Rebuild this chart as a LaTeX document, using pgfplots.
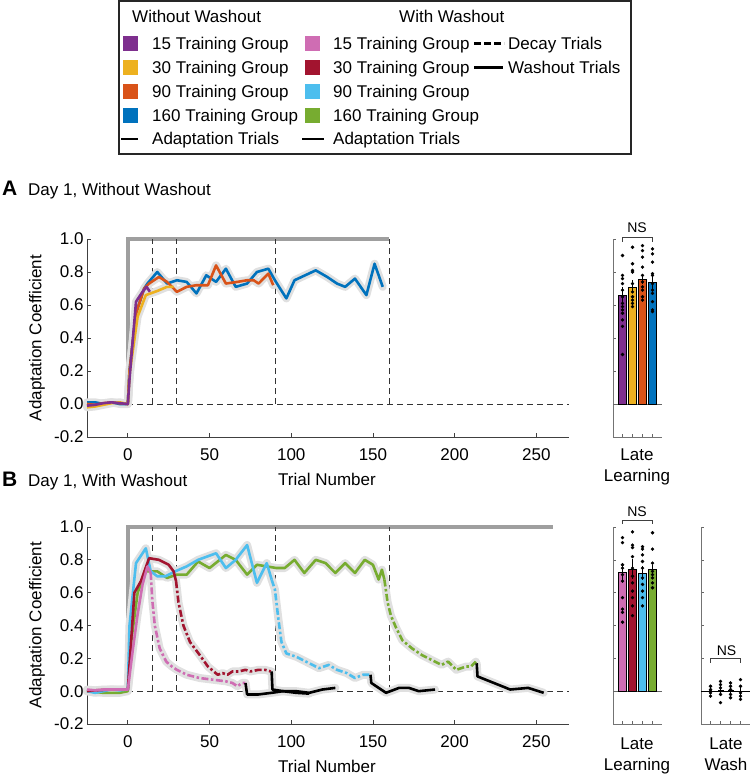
\documentclass[border=0pt]{standalone}
\usepackage{pgfplots}
\usepackage{pgfplotstable}
\pgfplotsset{compat=1.18}
\usepackage{fontspec}
\setmainfont{Liberation Sans}
\newcommand{\fs}{\fontsize{17}{20}\selectfont}
\definecolor{cPurple}{HTML}{7E2F8E}
\definecolor{cYellow}{HTML}{EDB120}
\definecolor{cOrange}{HTML}{D95319}
\definecolor{cBlue}{HTML}{0072BD}
\definecolor{cPink}{HTML}{CF6DB3}
\definecolor{cRed}{HTML}{A2142F}
\definecolor{cLBlue}{HTML}{4DBEEE}
\definecolor{cGreen}{HTML}{77AC30}
\definecolor{bandgray}{HTML}{E0E0E0}

% ---------- Panel A data ----------
\pgfplotstableread{
x y
-25 -0.01
-20 -0.005
-15 0.005
-10 0.01
-5 0.005
0 0.0
1 0.15
5 0.62
9 0.68
11.5 0.71
13.5 0.68
}\tApurple
\pgfplotstableread{
x y
-25 -0.02
-20 -0.015
-15 -0.005
-10 0.005
-5 0.01
0 0.0
1 0.18
6 0.53
11 0.66
18 0.685
24 0.71
28 0.71
}\tAyellow
\pgfplotstableread{
x y
-25 0.0
-20 -0.005
-15 0.005
-10 0.01
-5 0.005
0 0.0
1 0.2
5 0.55
10 0.70
13 0.73
19 0.77
24 0.74
30 0.68
36 0.71
42 0.72
49 0.72
54 0.84
60 0.73
67 0.74
73 0.75
77 0.75
80 0.73
86 0.79
89 0.72
}\tAorange
\pgfplotstableread{
x y
-25 0.01
-20 0.01
-15 0.0
-10 0.01
-5 0.0
0 0.0
1 0.2
5 0.55
10 0.70
12 0.73
18 0.80
24 0.73
30 0.75
36 0.74
42 0.67
48 0.78
54 0.74
60 0.82
66 0.71
73 0.73
79 0.80
86 0.82
90 0.75
97 0.64
102 0.75
115 0.81
122 0.77
128 0.73
133 0.71
139 0.76
146 0.66
151 0.85
156 0.71
}\tAblue

% ---------- Panel B data ----------
\pgfplotstableread{
x y
-25 0.01
-20 0.005
-15 0.01
-10 0.01
-5 0.01
0 0.01
3 0.25
6 0.47
9 0.65
12 0.76
14 0.72
}\tBpinkS
\pgfplotstableread{
x y
14 0.72
15 0.55
16.5 0.40
19.5 0.26
23.5 0.18
27 0.15
30 0.13
36 0.10
44 0.08
52 0.07
60 0.06
64 0.05
67 0.03
70 0.05
72 0.05
}\tBpinkD
\pgfplotstableread{
x y
72 0.05
73 -0.02
80 -0.02
88 -0.01
95 0.0
103 -0.01
111 -0.015
}\tBpinkW
\pgfplotstableread{
x y
-25 0.0
-20 0.005
-10 0.01
0 0.01
4 0.60
8 0.67
13 0.81
19 0.80
25 0.77
28 0.73
29.5 0.67
}\tBredS
\pgfplotstableread{
x y
29.5 0.67
31 0.54
34 0.40
38 0.30
44 0.22
49 0.15
55 0.10
58 0.11
61 0.10
64 0.12
68 0.12
72 0.13
75 0.12
80 0.13
84 0.13
87.5 0.12
}\tBredD
\pgfplotstableread{
x y
88 0.12
88.5 0.01
95 0.0
103 0.0
111 -0.01
119 0.01
127 0.02
}\tBredW
\pgfplotstableread{
x y
-25 0.0
-20 -0.01
-15 0.0
-10 0.01
-5 0.005
0 0.01
1 0.4
5 0.78
11 0.87
14 0.73
18 0.70
23 0.70
29 0.73
36 0.76
43 0.80
54 0.84
60 0.75
66 0.80
73 0.89
79 0.66
85 0.78
88 0.68
}\tBlblueS
\pgfplotstableread{
x y
88 0.68
90 0.62
92 0.45
94 0.30
97 0.23
103 0.21
109 0.18
117 0.14
123 0.16
128 0.13
134 0.11
139 0.08
144 0.10
148 0.10
}\tBlblueD
\pgfplotstableread{
x y
148.5 0.10
149 0.05
158 -0.01
166 0.02
172 0.02
178 0.0
188 0.01
}\tBlblueW
\pgfplotstableread{
x y
-25 0.0
-20 -0.005
-15 -0.01
-10 -0.01
-5 -0.01
0 0.0
2 0.3
6 0.60
11 0.73
18 0.73
24 0.69
30 0.71
36 0.71
43 0.79
50 0.75
60 0.83
66 0.80
73 0.71
79 0.77
85 0.76
91 0.75
96 0.75
102 0.80
108 0.72
115 0.80
121 0.78
127 0.72
133 0.78
139 0.72
145 0.80
150 0.77
153.5 0.68
155.5 0.74
157 0.68
}\tBgreenS
\pgfplotstableread{
x y
157 0.68
159 0.54
161 0.46
164 0.39
168 0.31
174 0.26
180 0.22
186 0.19
192 0.16
196 0.18
201 0.13
207 0.15
210 0.15
213 0.18
}\tBgreenD
\pgfplotstableread{
x y
213.5 0.17
214 0.09
234 0.01
245 0.02
254.5 -0.01
}\tBgreenW

\pgfplotsset{
  mainax/.style={scale only axis, width=482pt, xmin=-25, xmax=270, ymin=-0.2, ymax=1.0,
    axis x line*=bottom, axis y line*=left,
    axis line style={black!75, line width=0.9pt, -},
    tick style={black!75, line width=0.8pt}, tick align=inside, major tick length=4pt,
    xtick={0,50,100,150,200,250}, ytick={-0.2,0,0.2,0.4,0.6,0.8,1.0},
    yticklabel style={/pgf/number format/fixed, /pgf/number format/fixed zerofill, /pgf/number format/precision=1},
    xticklabel={\raisebox{-7pt}[12.5pt][0pt]{\pgfmathprintnumber{\tick}}},
    tick label style={font=\fs}, /pgf/number format/assume math mode=true,
    clip=false},
  barax/.style={scale only axis, width=49pt, xmin=0.05, xmax=4.95, ymin=-0.2, ymax=1.0,
    axis x line*=bottom, axis y line*=left,
    axis line style={black!55, line width=0.9pt, -},
    tick style={black!60, line width=0.6pt}, tick align=inside, major tick length=3pt,
    xtick={1,2,3,4}, xticklabels={}, ytick={-0.2,0,0.2,0.4,0.6,0.8,1.0}, yticklabels={},
    clip=false},
  band/.style={line width=8pt, bandgray, line join=round, line cap=round},
  ln/.style={line width=2.6pt, line join=round},
  dec/.style={line width=2.6pt, line join=round, dash pattern=on 7pt off 2.5pt on 2.5pt off 2.5pt},
  refl/.style={black!80, line width=0.8pt, dash pattern=on 6pt off 4pt},
  bar/.style={ybar, bar width=0.83, bar shift=0pt, draw=black, line width=0.5pt,
    error bars/y dir=both, error bars/y explicit, error bars/error mark=none,
    error bars/error bar style={black, line width=0.9pt}},
  dots/.style={only marks, mark=*, mark size=1.5pt, black},
  errs/.style={error bars/y dir=both, error bars/y explicit, error bars/error mark=none,
    error bars/error bar style={black, line width=0.9pt}},
}

\begin{document}
\begin{tikzpicture}
\useasboundingbox (0pt,0pt) rectangle (750pt,-775pt);

% ================= Legend =================
\draw[black!85, line width=1.3pt] (119pt,-1pt) rectangle (631pt,-154pt);
\node[anchor=base west, inner sep=0] at (132pt,-23pt) {\fs Without Washout};
\node[anchor=base west, inner sep=0] at (399pt,-23pt) {\fs With Washout};
\fill[cPurple] (123pt,-36pt) rectangle (138pt,-51pt);
\fill[cYellow] (123pt,-60pt) rectangle (138pt,-75pt);
\fill[cOrange] (123pt,-84pt) rectangle (138pt,-99pt);
\fill[cBlue]   (123pt,-108pt) rectangle (138pt,-123pt);
\node[anchor=base west, inner sep=0] at (152pt,-49.5pt) {\fs 15 Training Group};
\node[anchor=base west, inner sep=0] at (152pt,-73.5pt) {\fs 30 Training Group};
\node[anchor=base west, inner sep=0] at (152pt,-97.5pt) {\fs 90 Training Group};
\node[anchor=base west, inner sep=0] at (152pt,-121.5pt) {\fs 160 Training Group};
\fill[black] (121pt,-137.7pt) rectangle (138pt,-140.3pt);
\node[anchor=base west, inner sep=0] at (152pt,-145pt) {\fs Adaptation Trials};
\fill[cPink]  (305pt,-36pt) rectangle (320pt,-51pt);
\fill[cRed]   (305pt,-60pt) rectangle (320pt,-75pt);
\fill[cLBlue] (305pt,-84pt) rectangle (320pt,-99pt);
\fill[cGreen] (305pt,-108pt) rectangle (320pt,-123pt);
\node[anchor=base west, inner sep=0] at (333pt,-49.5pt) {\fs 15 Training Group};
\node[anchor=base west, inner sep=0] at (333pt,-73.5pt) {\fs 30 Training Group};
\node[anchor=base west, inner sep=0] at (333pt,-97.5pt) {\fs 90 Training Group};
\node[anchor=base west, inner sep=0] at (333pt,-121.5pt) {\fs 160 Training Group};
\draw[black, line width=2.5pt] (302pt,-139pt) -- (324pt,-139pt);
\node[anchor=base west, inner sep=0] at (333pt,-145pt) {\fs Adaptation Trials};
\draw[black, line width=2.5pt, dash pattern=on 7pt off 3pt] (474pt,-43.5pt) -- (504pt,-43.5pt);
\node[anchor=base west, inner sep=0] at (508pt,-49.5pt) {\fs Decay Trials};
\draw[black, line width=2.5pt] (474pt,-67.5pt) -- (503pt,-67.5pt);
\node[anchor=base west, inner sep=0] at (508pt,-73.5pt) {\fs Washout Trials};

% ================= Titles and labels =================
\node[anchor=base west, inner sep=0] at (2pt,-196pt) {\fontsize{21}{24}\selectfont\bfseries A};
\node[anchor=base west, inner sep=0] at (28pt,-196pt) {\fs Day 1, Without Washout};
\node[anchor=base west, inner sep=0] at (2pt,-486.5pt) {\fontsize{21}{24}\selectfont\bfseries B};
\node[anchor=base west, inner sep=0] at (28pt,-486.5pt) {\fs Day 1, With Washout};
\node[anchor=base, inner sep=0] at (327pt,-485pt) {\fs Trial Number};
\node[anchor=base, inner sep=0] at (327pt,-772pt) {\fs Trial Number};
\node[rotate=90, anchor=center, inner sep=0] at (37pt,-338pt) {\fs Adaptation Coefficient};
\node[rotate=90, anchor=center, inner sep=0] at (37pt,-625pt) {\fs Adaptation Coefficient};
\node[anchor=base, inner sep=0] at (637pt,-460.5pt) {\fs Late};
\node[anchor=base, inner sep=0] at (637pt,-481.5pt) {\fs Learning};
\node[anchor=base, inner sep=0] at (637pt,-749.5pt) {\fs Late};
\node[anchor=base, inner sep=0] at (637pt,-770.5pt) {\fs Learning};
\node[anchor=base, inner sep=0] at (726pt,-749.5pt) {\fs Late};
\node[anchor=base, inner sep=0] at (726pt,-770.5pt) {\fs Wash};
\node[anchor=base, inner sep=0] at (637pt,-233pt) {\fontsize{14}{16}\selectfont NS};
\node[anchor=base, inner sep=0] at (637pt,-516pt) {\fontsize{14}{16}\selectfont NS};
\node[anchor=base, inner sep=0] at (726.5pt,-655pt) {\fontsize{14}{16}\selectfont NS};

% ================= Panel A main =================
\begin{axis}[mainax, height=198pt, at={(87pt,-437pt)}, anchor=south west]
\addplot[gray!75, line width=3.5pt] coordinates {(0,0)(0,1)(160,1)};
\addplot[refl] coordinates {(-25,0)(270,0)};
\addplot[refl] coordinates {(15,0)(15,1)};
\addplot[refl] coordinates {(30,0)(30,1)};
\addplot[refl] coordinates {(90,0)(90,1)};
\addplot[refl] coordinates {(160,0)(160,1)};
\addplot[band] table {\tAblue};
\addplot[band] table {\tAorange};
\addplot[band] table {\tAyellow};
\addplot[band] table {\tApurple};
\addplot[ln, cBlue] table {\tAblue};
\addplot[ln, cOrange] table {\tAorange};
\addplot[ln, cYellow] table {\tAyellow};
\addplot[ln, cPurple] table {\tApurple};
\end{axis}

% ================= Panel A bars =================
\begin{axis}[barax, height=198pt, at={(613pt,-437pt)}, anchor=south west]
\addplot[black!60, line width=0.8pt] coordinates {(0.05,0)(4.95,0)};
\addplot[bar, fill=cPurple] coordinates {(1,0.66) +- (0,0.05)};
\addplot[bar, fill=cYellow] coordinates {(2,0.71) +- (0,0.04)};
\addplot[bar, fill=cOrange] coordinates {(3,0.755) +- (0,0.03)};
\addplot[bar, fill=cBlue] coordinates {(4,0.74) +- (0,0.04)};
\addplot[dots] coordinates {(1,0.90)(1,0.78)(1,0.76)(1,0.73)(1,0.69)(1,0.65)(1,0.61)(1,0.59)(1,0.57)(1,0.55)(1,0.51)(1,0.47)(1,0.30)};
\addplot[dots] coordinates {(2,0.95)(2,0.85)(2,0.81)(2,0.80)(2,0.73)(2,0.68)(2,0.65)(2,0.63)(2,0.61)(2,0.59)};
\addplot[dots] coordinates {(3,0.96)(3,0.93)(3,0.89)(3,0.83)(3,0.78)(3,0.74)(3,0.71)(3,0.69)(3,0.65)(3,0.63)};
\addplot[dots] coordinates {(4,0.94)(4,0.91)(4,0.86)(4,0.79)(4,0.78)(4,0.73)(4,0.69)(4,0.67)(4,0.62)(4,0.57)(4,0.56)};
\addplot[black!75, line width=0.8pt] coordinates {(1,0.984)(1,1.01)(4,1.01)(4,0.984)};
\end{axis}

% ================= Panel B main =================
\begin{axis}[mainax, height=197pt, at={(87pt,-724pt)}, anchor=south west]
\addplot[gray!75, line width=3.5pt] coordinates {(0,0)(0,1)(260,1)};
\addplot[refl] coordinates {(-25,0)(270,0)};
\addplot[refl] coordinates {(15,0)(15,1)};
\addplot[refl] coordinates {(30,0)(30,1)};
\addplot[refl] coordinates {(90,0)(90,1)};
\addplot[refl] coordinates {(160,0)(160,1)};
\addplot[band] table {\tBgreenS};
\addplot[band] table {\tBgreenD};
\addplot[band] table {\tBgreenW};
\addplot[band] table {\tBlblueS};
\addplot[band] table {\tBlblueD};
\addplot[band] table {\tBlblueW};
\addplot[band] table {\tBredS};
\addplot[band] table {\tBredD};
\addplot[band] table {\tBredW};
\addplot[band] table {\tBpinkS};
\addplot[band] table {\tBpinkD};
\addplot[band] table {\tBpinkW};
\addplot[ln, cGreen] table {\tBgreenS};
\addplot[dec, cGreen] table {\tBgreenD};
\addplot[ln, cLBlue] table {\tBlblueS};
\addplot[dec, cLBlue] table {\tBlblueD};
\addplot[ln, cRed] table {\tBredS};
\addplot[dec, cRed] table {\tBredD};
\addplot[ln, cPink] table {\tBpinkS};
\addplot[dec, cPink] table {\tBpinkD};
\addplot[ln, black] table {\tBpinkW};
\addplot[ln, black] table {\tBredW};
\addplot[ln, black] table {\tBlblueW};
\addplot[ln, black] table {\tBgreenW};
\end{axis}

% ================= Panel B bars =================
\begin{axis}[barax, height=197pt, at={(613pt,-724pt)}, anchor=south west]
\addplot[black!60, line width=0.8pt] coordinates {(0.05,0)(4.95,0)};
\addplot[bar, fill=cPink] coordinates {(1,0.727) +- (0,0.05)};
\addplot[bar, fill=cRed] coordinates {(2,0.743) +- (0,0.06)};
\addplot[bar, fill=cLBlue] coordinates {(3,0.72) +- (0,0.04)};
\addplot[bar, fill=cGreen] coordinates {(4,0.74) +- (0,0.03)};
\addplot[dots] coordinates {(1,0.935)(1,0.905)(1,0.77)(1,0.75)(1,0.71)(1,0.67)(1,0.57)(1,0.50)(1,0.48)(1,0.42)};
\addplot[dots] coordinates {(2,0.97)(2,0.89)(2,0.875)(2,0.82)(2,0.75)(2,0.70)(2,0.66)(2,0.61)(2,0.57)(2,0.52)(2,0.46)};
\addplot[dots] coordinates {(3,0.88)(3,0.865)(3,0.83)(3,0.79)(3,0.75)(3,0.69)(3,0.65)(3,0.61)(3,0.57)(3,0.52)};
\addplot[dots] coordinates {(4,0.965)(4,0.865)(4,0.78)(4,0.73)(4,0.71)(4,0.69)(4,0.66)(4,0.63)};
\addplot[black!75, line width=0.8pt] coordinates {(1,1.018)(1,1.043)(4,1.043)(4,1.018)};
\end{axis}

% ================= Late Wash =================
\begin{axis}[barax, height=197pt, at={(701pt,-724pt)}, anchor=south west]
\addplot[black, line width=0.8pt] coordinates {(0.05,0)(4.95,0)};
\addplot[black, line width=0.9pt, only marks, mark=-, mark size=3pt, errs]
  coordinates {(1,0.0) +- (0,0.02) (2,0.005) +- (0,0.03) (3,0.005) +- (0,0.02) (4,0.0) +- (0,0.03)};
\addplot[dots] coordinates {(1,0.03)(1,0.01)(1,-0.01)(1,-0.03)(1,0.0)};
\addplot[dots] coordinates {(2,0.06)(2,0.04)(2,0.02)(2,-0.02)(2,-0.07)(2,0.0)};
\addplot[dots] coordinates {(3,0.05)(3,0.03)(3,-0.02)(3,-0.04)(3,0.01)};
\addplot[dots] coordinates {(4,0.07)(4,0.03)(4,-0.01)(4,-0.03)(4,-0.05)};
\addplot[black!75, line width=0.8pt] coordinates {(1,0.173)(1,0.20)(4,0.20)(4,0.173)};
\end{axis}
\end{tikzpicture}
\end{document}
